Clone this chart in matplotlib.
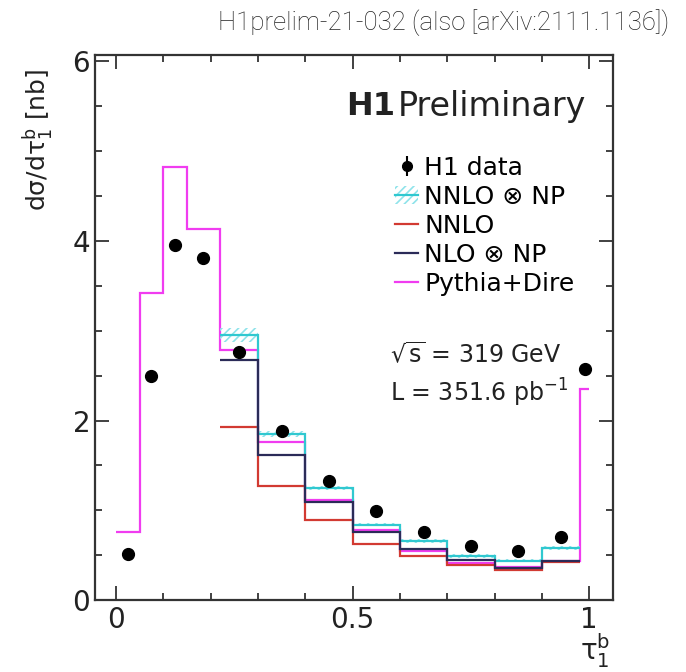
import numpy as np
import matplotlib
matplotlib.use('Agg')
import matplotlib.pyplot as plt
from matplotlib.patches import Patch
from matplotlib.lines import Line2D

# Бины по tau_1^b
edges = [0, 0.05, 0.1, 0.15, 0.22, 0.3, 0.4, 0.5, 0.6, 0.7, 0.8, 0.9, 0.98, 1.0]
theo_edges = [0.22, 0.3, 0.4, 0.5, 0.6, 0.7, 0.8, 0.9, 0.98]

# H1 данные
h1_data = [0.51, 2.50, 3.96, 3.81, 2.76, 1.88, 1.33, 0.99, 0.76, 0.60, 0.55, 0.70, 2.57]
h1_err = [0.03, 0.05, 0.06, 0.06, 0.05, 0.04, 0.03, 0.03, 0.02, 0.02, 0.02, 0.02, 0.05]

# Предсказания
pythia = [0.76, 3.42, 4.82, 4.13, 2.78, 1.76, 1.11, 0.78, 0.55, 0.41, 0.37, 0.43, 2.35]
nnlo_np = [2.95, 1.85, 1.25, 0.84, 0.66, 0.49, 0.44, 0.58]
nnlo_np_up = [3.03, 1.88, 1.27, 0.86, 0.68, 0.51, 0.46, 0.60]
nnlo_np_dn = [2.87, 1.82, 1.23, 0.82, 0.64, 0.47, 0.42, 0.56]
nnlo = [1.93, 1.27, 0.89, 0.62, 0.49, 0.39, 0.34, 0.42]
nlo_np = [2.67, 1.62, 1.09, 0.76, 0.57, 0.45, 0.36, 0.44]

C_PYTHIA = '#f03cf0'
C_CYAN = '#30c8d0'
C_HATCH = '#8fe3ea'
C_RED = '#d23a32'
C_NAVY = '#2b2b58'
C_TEXT = '#222222'

plt.rcParams['font.family'] = ['DejaVu Sans']
plt.rcParams['mathtext.fontset'] = 'dejavusans'
plt.rcParams['hatch.linewidth'] = 1.2
plt.rcParams['hatch.color'] = C_HATCH

fig = plt.figure(figsize=(6.86, 6.72), dpi=100)
ax = fig.add_axes([0.1385, 0.107, 0.755, 0.811])

centers = (np.array(edges[:-1]) + np.array(edges[1:])) / 2

ax.stairs(pythia, edges, baseline=None, color=C_PYTHIA, lw=1.6, zorder=2)
ax.stairs(nnlo, theo_edges, baseline=None, color=C_RED, lw=1.6, zorder=3)
ax.stairs(nnlo_np_up, theo_edges, baseline=nnlo_np_dn, fill=True, facecolor='none',
          edgecolor=C_HATCH, hatch='////', lw=0, zorder=3)
ax.stairs(nnlo_np, theo_edges, baseline=None, color=C_CYAN, lw=1.6, zorder=4)
ax.stairs(nlo_np, theo_edges, baseline=None, color=C_NAVY, lw=1.6, zorder=5)
ax.errorbar(centers, h1_data, yerr=h1_err, fmt='o', color='black', ms=8.5,
            elinewidth=1.5, capsize=0, zorder=6)

ax.set_xlim(-0.044, 1.05)
ax.set_ylim(0, 6.07)
ax.set_xticks([0, 0.5, 1])
ax.set_xticklabels(['0', '0.5', '1'])
ax.set_xticks(np.arange(0, 1.01, 0.1), minor=True)
ax.set_yticks([0, 2, 4, 6])
ax.set_yticks(np.arange(0, 6.01, 0.5), minor=True)
ax.tick_params(which='both', direction='in', top=True, right=True,
               width=1.3, color='#333333', labelsize=20, labelcolor=C_TEXT)
ax.tick_params(which='major', length=10)
ax.tick_params(which='minor', length=5)
ax.tick_params(axis='x', pad=4)
for s in ax.spines.values():
    s.set_linewidth(1.6)
    s.set_color('#333333')

ax.set_ylabel(r'd$\mathrm{\sigma}$/d$\mathrm{\tau}_1^{\mathrm{b}}$ [nb]', fontsize=18,
              loc='top', color=C_TEXT)
ax.yaxis.set_label_coords(-0.075, 0.975)
ax.set_xlabel(r'$\mathrm{\tau}_1^{\mathrm{b}}$', fontsize=20, loc='right', color=C_TEXT)
ax.xaxis.set_label_coords(0.995, -0.058)

ax.text(0.485, 0.905, 'H1', transform=ax.transAxes, fontsize=23, weight='bold',
        ha='left', va='center', color=C_TEXT)
ax.text(0.585, 0.905, 'Preliminary', transform=ax.transAxes, fontsize=24,
        ha='left', va='center', color=C_TEXT)
ax.text(0.57, 0.45, r'$\sqrt{\mathrm{s}}$ = 319 GeV', transform=ax.transAxes,
        fontsize=17, ha='left', va='center', color=C_TEXT)
ax.text(0.57, 0.38, r'L = 351.6 pb$^{-1}$', transform=ax.transAxes,
        fontsize=17, ha='left', va='center', color=C_TEXT)

handles = [
    (Line2D([], [], marker='|', color='black', ms=14, mew=1.5, lw=0),
     Line2D([], [], marker='o', color='black', ms=7, lw=0)),
    (Patch(facecolor='none', edgecolor=C_HATCH, hatch='////', lw=0),
     Line2D([], [], color=C_CYAN, lw=1.6)),
    Line2D([], [], color=C_RED, lw=1.6),
    Line2D([], [], color=C_NAVY, lw=1.6),
    Line2D([], [], color=C_PYTHIA, lw=1.6),
]
labels = ['H1 data', 'NNLO ⊗ NP', 'NNLO', 'NLO ⊗ NP', 'Pythia+Dire']
ax.legend(handles, labels, loc='upper left', bbox_to_anchor=(0.58, 0.815),
          frameon=False, fontsize=18, handlelength=0.9, handletextpad=0.25,
          labelspacing=0.2, borderaxespad=0, borderpad=0)

fig.text(0.975, 0.967, 'H1prelim-21-032 (also [arXiv:2111.1136])', ha='right',
         va='center', fontsize=18.5, family='Roboto', weight='light', color=C_TEXT)

fig.savefig('out.png', dpi=100)
